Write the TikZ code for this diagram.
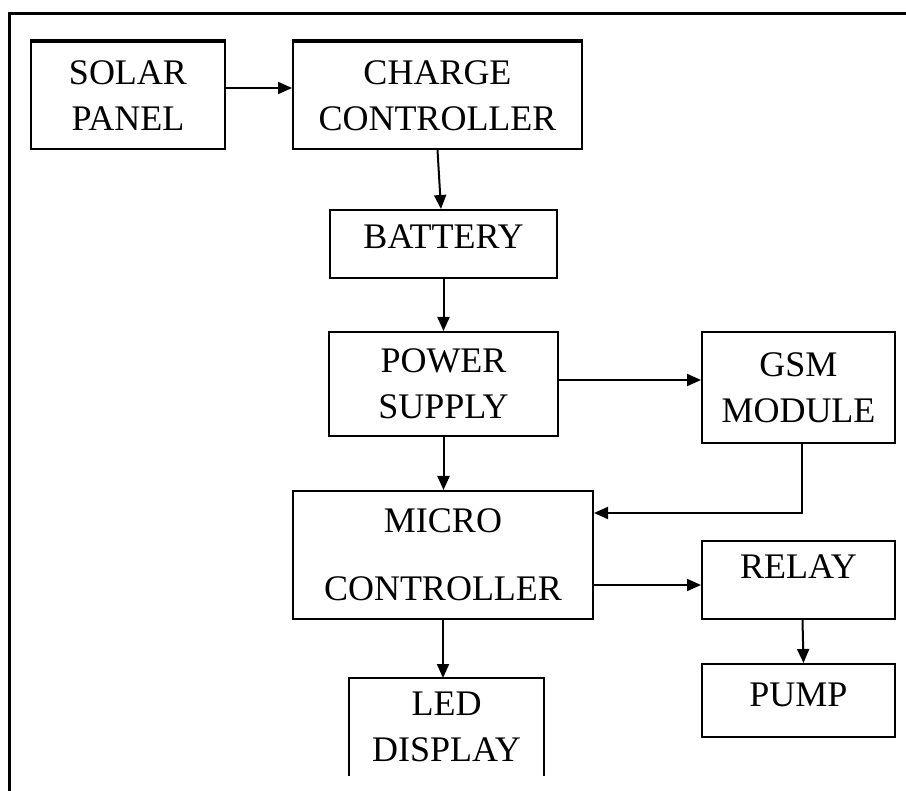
\documentclass[tikz,border=0pt]{standalone}
\usepackage{fontspec}
\setmainfont{Liberation Serif}
\usetikzlibrary{arrows.meta}

\begin{document}
\begin{tikzpicture}[
  x=1pt, y=-1pt,
  font=\fontsize{36}{46}\selectfont,
  >={Triangle[length=14pt,width=12pt]},
  block/.style={draw, line width=2pt, align=center, inner sep=0pt},
  arr/.style={->, line width=2pt}
]
  \path[use as bounding box, clip] (0,0) rectangle (906,791);

  % outer frame (runs off the page at right and bottom)
  \draw[line width=2.5pt] (9.5,830) -- (9.5,13.5) -- (940,13.5);

  % top row
  \node[block, minimum width=194pt, minimum height=107pt] (solar) at (128,95.5) {SOLAR\\PANEL};
  \node[block, minimum width=289pt, minimum height=107pt] (charge) at (437.5,95.5) {CHARGE\\CONTROLLER};
  \draw[line width=3.5pt] (solar.north west) -- (solar.north east);
  \draw[line width=3.5pt] (charge.north west) -- (charge.north east);

  % main column
  \node[block, minimum width=227pt, minimum height=68pt, text depth=14pt] (battery) at (443.5,244) {BATTERY};
  \node[block, minimum width=229pt, minimum height=104pt] (power) at (443.5,384) {POWER\\SUPPLY};
  \node[block, minimum width=300pt, minimum height=128pt] (micro) at (443,555) {MICRO\\[22pt]CONTROLLER};
  \node[block, draw=none, minimum width=193pt, minimum height=96pt] (led) at (446.5,727) {LED\\DISPLAY};
  \draw[line width=2pt] (led.south west) -- (led.north west) -- (led.north east) -- (led.south east);

  % right column
  \node[block, minimum width=193pt, minimum height=111pt] (gsm) at (798.5,387.5) {GSM\\MODULE};
  \node[block, minimum width=193pt, minimum height=78pt, text depth=26pt] (relay) at (798.5,580) {RELAY};
  \node[block, minimum width=193pt, minimum height=73pt, text depth=12pt] (pump) at (798.5,700.5) {PUMP};

  % connections
  \draw[arr] ([yshift=7.5pt]solar.east) -- ([yshift=7.5pt]charge.west);
  \draw[arr] (charge.south) -- ([xshift=-2.5pt]battery.north);
  \draw[arr] (battery.south) -- (power.north);
  \draw[arr] ([yshift=4pt]power.east) -- ([yshift=4pt]power.east -| gsm.west);
  \draw[arr] (power.south) -- (power.south |- micro.north);
  \draw[arr] ([xshift=3.5pt]gsm.south) |- ([yshift=42pt]micro.east);
  \draw[arr] ([yshift=-30pt]micro.east) -- ([yshift=-30pt]micro.east -| relay.west);
  \draw[arr] ([xshift=4pt]relay.south) -- ([xshift=5pt]pump.north);
  \draw[arr] (micro.south) -- (micro.south |- led.north);
\end{tikzpicture}
\end{document}
